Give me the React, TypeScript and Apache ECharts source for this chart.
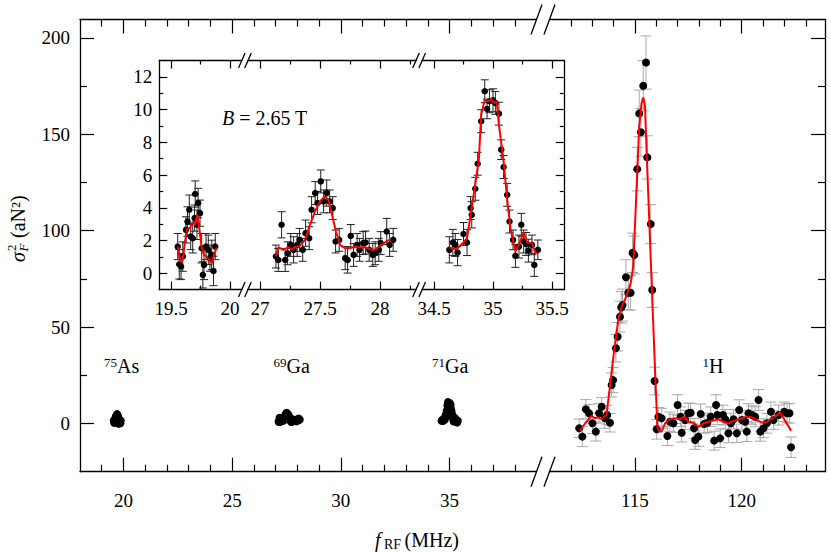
import React, { useEffect, useRef } from "react";
import * as echarts from "echarts";

// ---------------- data ----------------
// 75As line (inset, left segment)
const asFreq = [19.557, 19.57, 19.585, 19.6, 19.627, 19.64, 19.655, 19.667, 19.684, 19.7, 19.705, 19.72, 19.73, 19.746, 19.76, 19.77, 19.78, 19.797, 19.816, 19.83, 19.845, 19.86, 19.875];
const asSig = [1.63, 0.55, 0.41, 1.02, 2.65, 3.16, 3.88, 2.24, 2.14, 3.37, 4.84, 2.96, 4.29, 3.67, 1.53, -0.1, 0.51, 1.63, 1.43, 0.92, 1.12, 0.14, 1.63];
const asErr = [0.8, 0.9, 0.8, 0.9, 0.8, 0.9, 0.9, 0.8, 0.9, 0.8, 0.8, 0.9, 0.9, 0.8, 0.9, 0.8, 0.9, 0.8, 0.9, 0.8, 0.9, 0.9, 0.8];
const asFitFreq = [19.557, 19.576, 19.599, 19.619, 19.64, 19.661, 19.684, 19.703, 19.723, 19.74, 19.76, 19.78, 19.8, 19.825, 19.845, 19.864, 19.887];
const asFitSig = [1.63, 0.71, 0.81, 1.94, 2.75, 2.75, 3.16, 2.96, 3.57, 2.75, 1.53, 1.12, 1.02, 0.81, 0.61, 1.12, 1.57];

// 69Ga line (inset, middle segment)
const ga69Freq = [27.133, 27.153, 27.18, 27.21, 27.23, 27.256, 27.28, 27.31, 27.33, 27.356, 27.38, 27.41, 27.43, 27.46, 27.48, 27.506, 27.53, 27.556, 27.58, 27.606, 27.63, 27.66, 27.71, 27.73, 27.756, 27.78, 27.81, 27.83, 27.86, 27.88, 27.91, 27.94, 27.96, 27.99, 28.006, 28.056, 28.08, 28.11];
const ga69Sig = [1.02, 0.81, 2.96, 0.81, 1.22, 1.73, 1.43, 1.73, 2.04, 1.43, 2.45, 2.14, 3.88, 4.9, 4.29, 5.61, 4.39, 4.9, 4.39, 3.98, 1.94, 2.04, 0.92, 0.81, 2.28, 1.12, 1.73, 1.43, 1.84, 1.88, 1.43, 1.12, 1.22, 1.43, 1.84, 2.55, 1.73, 2.04];
const ga69Err = [0.7, 0.7, 0.8, 0.7, 0.7, 0.7, 0.8, 0.7, 0.7, 0.7, 0.8, 0.7, 0.8, 0.7, 0.7, 0.7, 0.7, 0.8, 0.7, 0.7, 0.7, 0.7, 0.7, 0.8, 0.7, 0.7, 0.7, 0.7, 0.7, 0.7, 0.7, 0.7, 0.7, 0.7, 0.7, 0.8, 0.7, 0.7];
const ga69FitFreq = [27.133, 27.153, 27.194, 27.236, 27.264, 27.29, 27.33, 27.375, 27.417, 27.458, 27.5, 27.54, 27.57, 27.597, 27.633, 27.667, 27.708, 27.75, 27.79, 27.83, 27.875, 27.917, 27.958, 28.0, 28.04, 28.09];
const ga69FitSig = [1.02, 1.59, 1.43, 1.59, 1.43, 1.59, 1.67, 2.04, 2.96, 3.77, 4.39, 4.69, 4.49, 3.67, 2.55, 1.73, 1.53, 1.53, 1.63, 1.59, 1.59, 1.47, 1.43, 1.67, 1.88, 2.08];

// 71Ga line (inset, right segment)
const ga71Freq = [34.63, 34.66, 34.68, 34.7, 34.75, 34.78, 34.81, 34.82, 34.85, 34.87, 34.9, 34.93, 34.95, 34.97, 35.0, 35.02, 35.05, 35.07, 35.09, 35.12, 35.14, 35.17, 35.19, 35.22, 35.24, 35.26, 35.28, 35.3, 35.33, 35.35, 35.38];
const ga71Sig = [1.43, 1.88, 1.73, 1.26, 2.4, 1.88, 3.98, 3.57, 5.16, 6.69, 9.29, 11.12, 10.04, 10.51, 10.57, 10.41, 9.75, 7.55, 6.49, 4.79, 3.16, 2.04, 1.06, 1.63, 2.96, 1.94, 1.79, 1.38, 1.73, 0.51, 1.43];
const ga71Err = [0.8, 0.8, 0.7, 0.8, 0.7, 0.8, 0.7, 0.8, 0.7, 0.7, 0.7, 0.7, 0.6, 0.7, 0.7, 0.7, 0.7, 0.6, 0.7, 0.7, 0.7, 0.6, 0.7, 0.7, 0.7, 0.7, 0.7, 0.7, 0.6, 0.7, 0.6];
const ga71FitFreq = [34.63, 34.69, 34.75, 34.78, 34.83, 34.88, 34.9, 34.93, 34.96, 34.98, 35.01, 35.03, 35.05, 35.09, 35.12, 35.15, 35.19, 35.23, 35.26, 35.29, 35.33, 35.36, 35.38];
const ga71FitSig = [1.59, 1.47, 1.88, 2.14, 4.49, 6.94, 9.69, 10.61, 10.51, 10.65, 10.41, 10.51, 9.08, 6.83, 4.49, 2.65, 1.32, 1.94, 2.49, 1.88, 1.84, 1.22, 1.22];

// 1H line (main plot, right segment)
const hFreq = [112.39, 112.54, 112.7, 112.85, 113.01, 113.17, 113.32, 113.44, 113.59, 113.7, 113.83, 113.91, 113.98, 114.11, 114.19, 114.3, 114.36, 114.42, 114.58, 114.69, 114.8, 114.89, 114.97, 115.11, 115.2, 115.28, 115.39, 115.52, 115.58, 115.74, 115.81, 115.92, 116.02, 116.1, 116.25, 116.52, 116.64, 116.8, 117.0, 117.14, 117.19, 117.35, 117.5, 117.61, 117.77, 117.82, 117.97, 118.08, 118.24, 118.39, 118.55, 118.71, 118.8, 118.86, 118.99, 119.12, 119.23, 119.38, 119.49, 119.62, 119.77, 119.88, 120.01, 120.16, 120.24, 120.32, 120.48, 120.63, 120.79, 120.87, 121.02, 121.18, 121.37, 121.49, 121.73, 121.99, 122.12, 122.24, 122.31];
const hSig = [-2.5, -6.8, 7.4, 5.3, 0.1, -4.2, 5.3, 8.7, 2.7, 4.4, 0.4, 20, 22.5, 39, 45, 55.4, 60.2, 61.4, 75.8, 67.8, 67.8, 88.5, 87.4, 131.9, 160.8, 151, 175.1, 187.2, 138, 103.4, 69.2, 22, -3, 3.5, 2.7, -6.5, 0.9, 0.1, 9.6, 3.5, -4.8, 1.8, 5.3, 5.6, -2.5, -8.6, -6.8, 4.9, -0.3, 0.4, 3.5, -8.9, 9.6, 4.4, -7.7, 4.4, 2.2, -5.1, 0.1, 2.2, -5.1, 7, 1.8, 0.9, -4.2, 5.3, 4.4, 3.5, 12.2, -4.2, -2.5, 0.1, 6.1, 1.8, 4.4, 6.1, 5.3, 5.3, -12.3];
const hErr = [4.8, 5.2, 5.0, 4.6, 5.3, 4.9, 5.1, 4.7, 5.2, 5.0, 4.8, 6.2, 6.5, 7.1, 7.4, 8.0, 8.2, 8.3, 9.1, 8.8, 9.0, 10.2, 9.8, 11.3, 12.1, 12.4, 13.0, 13.8, 11.2, 10.1, 9.0, 7.2, 5.1, 4.8, 5.2, 4.9, 5.0, 4.7, 5.3, 5.1, 4.8, 5.0, 5.2, 4.9, 5.1, 4.8, 5.0, 5.2, 4.7, 5.0, 5.1, 4.9, 5.3, 5.0, 4.8, 5.1, 5.0, 4.9, 5.2, 5.0, 4.8, 5.3, 5.0, 4.9, 5.1, 5.0, 4.8, 5.2, 5.4, 5.0, 4.9, 5.1, 5.0, 4.8, 5.2, 5.0, 4.9, 5.1, 5.3];
const hFitFreq = [112.42, 112.73, 112.97, 113.12, 113.28, 113.44, 113.67, 113.83, 114.01, 114.22, 114.37, 114.53, 114.64, 114.8, 114.92, 115.08, 115.2, 115.31, 115.39, 115.47, 115.55, 115.7, 115.85, 115.97, 116.05, 116.14, 116.25, 116.41, 116.52, 116.64, 116.88, 117.11, 117.3, 117.5, 117.74, 117.97, 118.21, 118.44, 118.68, 118.91, 119.15, 119.38, 119.54, 119.77, 120.01, 120.24, 120.48, 120.71, 120.95, 121.18, 121.42, 121.65, 121.81, 121.99, 122.31];
const hFitSig = [-3.7, 0.9, 4.0, 2.7, 3.2, 2.3, 4.4, 19.1, 36.4, 53.7, 60.6, 64, 67.5, 72.7, 81.3, 122.8, 153.9, 166, 169.1, 165.1, 140.1, 96.8, 53.7, 20, -1.7, -4.2, -4.2, 0.1, 1.2, 2.2, 2.7, 2.2, 3.5, 0.9, 0.4, -1.7, 0.1, 0.9, 1.5, 2.2, 0.9, 0.1, 0.9, 1.8, 2.7, 3.5, 3.2, 1.8, 0.4, 0.9, 2.7, 4.4, 5.6, 2.2, -3.7];

// tick values
const mainLeftXMajor = [20, 25, 30, 35];
const mainLeftXMinor = [19, 21, 22, 23, 24, 26, 27, 28, 29, 31, 32, 33, 34, 36, 37, 38];
const mainRightXMajor = [115, 120];
const mainRightXMinor = [112, 113, 114, 116, 117, 118, 119, 121, 122, 123];
const mainYMajor = [0, 50, 100, 150, 200];
const mainYMinor = [25, 75, 125, 175];
const insetYMajor = [0, 2, 4, 6, 8, 10, 12];
const insetYMinor = [1, 3, 5, 7, 9, 11];
const inset1XMajor = [19.5, 20];
const inset1XMinor = [19.75];
const inset2XMajor = [27, 27.5, 28];
const inset2XMinor = [27.25, 27.75, 28.25];
const inset3XMajor = [34.5, 35, 35.5];
const inset3XMinor = [34.75, 35.25];

// ---------------- chart ----------------
const FONT = "Liberation Serif";

type PanelSpec = {
  left: number; top: number; width: number; height: number;
  xMin: number; xMax: number; yMin: number; yMax: number;
  xMajor: number[]; xMinor: number[]; yMajor: number[]; yMinor: number[];
  majLen: number; minLen: number;
  yPos: "left" | "right" | null; yLabels: boolean;
  xLabelMargin: number; yLabelMargin: number; fontSize: number;
};

function buildPanels(specs: PanelSpec[]) {
  const grid: any[] = [];
  const xAxis: any[] = [];
  const yAxis: any[] = [];
  specs.forEach((s, i) => {
    const rect = { left: s.left, top: s.top, width: s.width, height: s.height, containLabel: false };
    grid.push({ ...rect }, { ...rect });
    const line = { show: true, onZero: false, lineStyle: { color: "#000", width: 1.3 } };
    const noLine = { show: false, onZero: false };
    const tick = (vals: number[], len: number) => ({
      show: true, inside: true, length: len, customValues: vals,
      lineStyle: { color: "#000", width: 1.2 },
    });
    const label = (vals: number[], margin: number) => ({
      show: true, customValues: vals, margin, color: "#000",
      fontFamily: FONT, fontSize: s.fontSize, formatter: (v: number) => String(v),
    });
    const xb = { type: "value", min: s.xMin, max: s.xMax, splitLine: { show: false }, axisPointer: { show: false } };
    xAxis.push(
      { ...xb, gridIndex: 2 * i, position: "bottom", axisLine: line, axisTick: tick(s.xMajor, s.majLen), axisLabel: label(s.xMajor, s.xLabelMargin) },
      { ...xb, gridIndex: 2 * i, position: "top", axisLine: line, axisTick: tick(s.xMajor, s.majLen), axisLabel: { show: false } },
      { ...xb, gridIndex: 2 * i + 1, position: "bottom", axisLine: noLine, axisTick: tick(s.xMinor, s.minLen), axisLabel: { show: false } },
      { ...xb, gridIndex: 2 * i + 1, position: "top", axisLine: noLine, axisTick: tick(s.xMinor, s.minLen), axisLabel: { show: false } }
    );
    const yb = { type: "value", min: s.yMin, max: s.yMax, splitLine: { show: false }, position: s.yPos ?? "left", axisPointer: { show: false } };
    yAxis.push(
      {
        ...yb, gridIndex: 2 * i,
        axisLine: s.yPos ? line : noLine,
        axisTick: s.yPos ? tick(s.yMajor, s.majLen) : { show: false },
        axisLabel: s.yLabels ? label(s.yMajor, s.yLabelMargin) : { show: false },
      },
      {
        ...yb, gridIndex: 2 * i + 1,
        axisLine: noLine,
        axisTick: s.yPos ? tick(s.yMinor, s.minLen) : { show: false },
        axisLabel: { show: false },
      }
    );
  });
  return { grid, xAxis, yAxis };
}

function errorSeries(xi: number, yi: number, f: number[], v: number[], e: number[], color: string, cap: number) {
  return {
    type: "custom", xAxisIndex: xi, yAxisIndex: yi, z: 2, silent: true,
    data: f.map((x, k) => [x, v[k] - e[k], v[k] + e[k]]),
    encode: { x: 0, y: [1, 2] },
    renderItem: (_p: any, api: any) => {
      const x = api.value(0);
      const top = api.coord([x, api.value(2)]);
      const bot = api.coord([x, api.value(1)]);
      const style = { stroke: color, lineWidth: 1 };
      return {
        type: "group",
        children: [
          { type: "line", shape: { x1: top[0], y1: top[1], x2: bot[0], y2: bot[1] }, style },
          { type: "line", shape: { x1: top[0] - cap, y1: top[1], x2: top[0] + cap, y2: top[1] }, style },
          { type: "line", shape: { x1: bot[0] - cap, y1: bot[1], x2: bot[0] + cap, y2: bot[1] }, style },
        ],
      };
    },
  };
}

function scatterSeries(xi: number, yi: number, f: number[], v: number[], size: number) {
  return {
    type: "scatter", xAxisIndex: xi, yAxisIndex: yi, z: 3, silent: true,
    symbol: "circle", symbolSize: size, itemStyle: { color: "#000", opacity: 1 },
    data: f.map((x, k) => [x, v[k]]),
  };
}

function fitSeries(xi: number, yi: number, f: number[], v: number[]) {
  return {
    type: "line", xAxisIndex: xi, yAxisIndex: yi, z: 4, silent: true,
    symbol: "none", showSymbol: false,
    lineStyle: { color: "#ff0000", width: 2 },
    data: f.map((x, k) => [x, v[k]]),
  };
}

function slashes(cxs: number[], cy: number, dx: number, dy: number) {
  return cxs.map((cx) => ({
    type: "line", silent: true, z: 10,
    shape: { x1: cx - dx, y1: cy + dy, x2: cx + dx, y2: cy - dy },
    style: { stroke: "#000", lineWidth: 1.3 },
  }));
}

function txt(text: string, x: number, y: number, size: number, opts: any = {}) {
  return {
    type: "text", x, y, silent: true, z: 10,
    style: {
      text, fill: "#000", fontFamily: FONT, fontSize: size,
      fontStyle: opts.italic ? "italic" : "normal",
      align: opts.align ?? "left", verticalAlign: opts.va ?? "middle",
      rich: opts.rich,
    },
  };
}

function buildOption() {
  const MAIN_TOP = 19.5, MAIN_H = 452.2, IN_TOP = 60.5, IN_H = 229.1;
  const specs: PanelSpec[] = [
    { left: 80, top: MAIN_TOP, width: 456.5, height: MAIN_H, xMin: 18, xMax: 39, yMin: -25, yMax: 209.5,
      xMajor: mainLeftXMajor, xMinor: mainLeftXMinor, yMajor: mainYMajor, yMinor: mainYMinor,
      majLen: 14, minLen: 7, yPos: "left", yLabels: true, xLabelMargin: 19, yLabelMargin: 10, fontSize: 19 },
    { left: 549.5, top: MAIN_TOP, width: 275.5, height: MAIN_H, xMin: 111, xMax: 123.9, yMin: -25, yMax: 209.5,
      xMajor: mainRightXMajor, xMinor: mainRightXMinor, yMajor: mainYMajor, yMinor: mainYMinor,
      majLen: 14, minLen: 7, yPos: "right", yLabels: false, xLabelMargin: 19, yLabelMargin: 10, fontSize: 19 },
    { left: 159.2, top: IN_TOP, width: 82.6, height: IN_H, xMin: 19.4, xMax: 20.1, yMin: -1, yMax: 13,
      xMajor: inset1XMajor, xMinor: inset1XMinor, yMajor: insetYMajor, yMinor: insetYMinor,
      majLen: 8, minLen: 4, yPos: "left", yLabels: true, xLabelMargin: 9.5, yLabelMargin: 7, fontSize: 19 },
    { left: 248, top: IN_TOP, width: 168, height: IN_H, xMin: 26.9, xMax: 28.3, yMin: -1, yMax: 13,
      xMajor: inset2XMajor, xMinor: inset2XMinor, yMajor: insetYMajor, yMinor: insetYMinor,
      majLen: 8, minLen: 4, yPos: null, yLabels: false, xLabelMargin: 9.5, yLabelMargin: 7, fontSize: 19 },
    { left: 422.2, top: IN_TOP, width: 141.6, height: IN_H, xMin: 34.4, xMax: 35.6, yMin: -1, yMax: 13,
      xMajor: inset3XMajor, xMinor: inset3XMinor, yMajor: insetYMajor, yMinor: insetYMinor,
      majLen: 8, minLen: 4, yPos: "right", yLabels: false, xLabelMargin: 9.5, yLabelMargin: 7, fontSize: 19 },
  ];
  const { grid, xAxis, yAxis } = buildPanels(specs);

  const allLowFreq = [...asFreq, ...ga69Freq, ...ga71Freq];
  const allLowSig = [...asSig, ...ga69Sig, ...ga71Sig];

  const series: any[] = [
    scatterSeries(0, 0, allLowFreq, allLowSig, 8),
    errorSeries(4, 2, hFreq, hSig, hErr, "#a8a8a8", 5.5),
    scatterSeries(4, 2, hFreq, hSig, 8),
    fitSeries(4, 2, hFitFreq, hFitSig),
    errorSeries(8, 4, asFreq, asSig, asErr, "#222", 4),
    scatterSeries(8, 4, asFreq, asSig, 6.5),
    fitSeries(8, 4, asFitFreq, asFitSig),
    errorSeries(12, 6, ga69Freq, ga69Sig, ga69Err, "#222", 4),
    scatterSeries(12, 6, ga69Freq, ga69Sig, 6.5),
    fitSeries(12, 6, ga69FitFreq, ga69FitSig),
    errorSeries(16, 8, ga71Freq, ga71Sig, ga71Err, "#222", 4),
    scatterSeries(16, 8, ga71Freq, ga71Sig, 6.5),
    fitSeries(16, 8, ga71FitFreq, ga71FitSig),
  ];

  const graphic: any[] = [
    ...slashes([536.5, 549.5], MAIN_TOP, 5.5, 15),
    ...slashes([536.5, 549.5], MAIN_TOP + MAIN_H, 5.5, 15),
    ...slashes([241.8, 248, 416, 422.2], IN_TOP, 3.3, 7.5),
    ...slashes([241.8, 248, 416, 422.2], IN_TOP + IN_H, 3.3, 7.5),
    // isotope labels
    txt("75", 117, 362, 13, { align: "right" }),
    txt("As", 117, 366, 20),
    txt("69", 286.5, 362, 13, { align: "right" }),
    txt("Ga", 286.5, 366, 20),
    txt("71", 445, 362, 13, { align: "right" }),
    txt("Ga", 445, 366, 20),
    txt("1", 709, 362, 13, { align: "right" }),
    txt("H", 709, 366, 20),
    // field label
    txt("{i|B} = 2.65 T", 222, 118, 20, { rich: { i: { fontStyle: "italic", fontFamily: FONT, fontSize: 20 } } }),
    // x axis title
    txt("f", 375, 540, 20, { italic: true }),
    txt("RF", 384, 544.5, 14),
    txt("(MHz)", 404.5, 540, 20),
    // y axis title (rotated)
    {
      type: "group", x: 17.5, y: 262, rotation: Math.PI / 2, silent: true,
      children: [
        txt("σ", 0, 0, 20, { italic: true }),
        txt("2", 11, -6, 13),
        txt("F", 10.5, 6, 13, { italic: true }),
        txt("(aN²)", 24, 0, 20),
      ],
    },
  ];

  return {
    animation: false,
    backgroundColor: "#fff",
    textStyle: { fontFamily: FONT },
    grid, xAxis, yAxis, series, graphic,
  };
}

export default function App() {
  const ref = useRef<HTMLDivElement>(null);
  useEffect(() => {
    if (!ref.current) return;
    const chart = echarts.init(ref.current, null, { renderer: "svg" });
    chart.setOption(buildOption() as any);
    return () => chart.dispose();
  }, []);
  return <div ref={ref} style={{ position: "fixed", left: 0, top: 0, width: 831, height: 552 }} />;
}
